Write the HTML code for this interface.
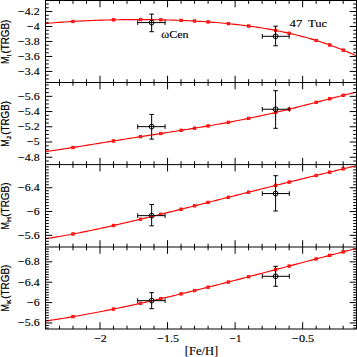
<!DOCTYPE html><html><head><meta charset="utf-8"><style>html,body{margin:0;padding:0;background:#fff;width:357px;height:357px;overflow:hidden}svg{display:block}text{font-family:"Liberation Sans",sans-serif;fill:#000}.sf{font-family:"Liberation Serif",serif}.st{stroke:#000;stroke-width:0.12px}.st2{stroke:#000;stroke-width:0.15px}</style></head><body><svg width="357" height="357" viewBox="0 0 357 357"><rect width="357" height="357" fill="#fff"/><defs><clipPath id="c0"><rect x="45.50" y="0.50" width="311.00" height="82.02"/></clipPath><clipPath id="c1"><rect x="45.50" y="82.52" width="311.00" height="82.10"/></clipPath><clipPath id="c2"><rect x="45.50" y="164.62" width="311.00" height="82.38"/></clipPath><clipPath id="c3"><rect x="45.50" y="247.00" width="311.00" height="82.00"/></clipPath></defs><g clip-path="url(#c0)"><polyline points="45.96,23.47 48.66,23.23 51.36,22.99 54.07,22.77 56.77,22.55 59.47,22.34 62.17,22.14 64.87,21.95 67.58,21.77 70.28,21.59 72.98,21.43 75.68,21.27 78.38,21.12 81.09,20.98 83.79,20.84 86.49,20.72 89.19,20.60 91.89,20.48 94.60,20.38 97.30,20.28 100.00,20.18 102.70,20.10 105.40,20.02 108.11,19.95 110.81,19.88 113.51,19.82 116.21,19.77 118.91,19.72 121.62,19.68 124.32,19.65 127.02,19.62 129.72,19.60 132.42,19.58 135.13,19.57 137.83,19.57 140.53,19.57 143.23,19.58 145.93,19.60 148.64,19.62 151.34,19.65 154.04,19.68 156.74,19.72 159.44,19.77 162.15,19.83 164.85,19.89 167.55,19.96 170.25,20.03 172.95,20.12 175.66,20.21 178.36,20.30 181.06,20.41 183.76,20.52 186.46,20.64 189.17,20.77 191.87,20.91 194.57,21.05 197.27,21.20 199.97,21.37 202.68,21.54 205.38,21.72 208.08,21.91 210.78,22.10 213.48,22.31 216.19,22.53 218.89,22.76 221.59,23.00 224.29,23.25 226.99,23.51 229.70,23.78 232.40,24.06 235.10,24.36 237.80,24.67 240.50,24.99 243.21,25.32 245.91,25.66 248.61,26.02 251.31,26.40 254.01,26.78 256.72,27.18 259.42,27.60 262.12,28.03 264.82,28.48 267.52,28.94 270.23,29.42 272.93,29.91 275.63,30.43 278.33,30.96 281.03,31.50 283.74,32.07 286.44,32.65 289.14,33.26 291.84,33.88 294.54,34.53 297.25,35.19 299.95,35.88 302.65,36.58 305.35,37.31 308.05,38.06 310.76,38.84 313.46,39.64 316.16,40.46 318.86,41.31 321.56,42.18 324.27,43.08 326.97,44.00 329.67,44.95 332.37,45.93 335.07,46.93 337.78,47.97 340.48,49.03 343.18,50.13 345.88,51.25 348.58,52.40 351.29,53.59 353.99,54.81 356.69,56.06" fill="none" stroke="#f00" stroke-width="1.15"/><rect x="71.78" y="20.23" width="2.4" height="2.4" fill="#f33" stroke="#f00" stroke-width="0.9"/><rect x="112.31" y="18.62" width="2.4" height="2.4" fill="#f33" stroke="#f00" stroke-width="0.9"/><rect x="139.33" y="18.37" width="2.4" height="2.4" fill="#f33" stroke="#f00" stroke-width="0.9"/><rect x="159.59" y="18.60" width="2.4" height="2.4" fill="#f33" stroke="#f00" stroke-width="0.9"/><rect x="179.86" y="19.21" width="2.4" height="2.4" fill="#f33" stroke="#f00" stroke-width="0.9"/><rect x="193.37" y="19.85" width="2.4" height="2.4" fill="#f33" stroke="#f00" stroke-width="0.9"/><rect x="206.88" y="20.71" width="2.4" height="2.4" fill="#f33" stroke="#f00" stroke-width="0.9"/><rect x="227.15" y="22.44" width="2.4" height="2.4" fill="#f33" stroke="#f00" stroke-width="0.9"/><rect x="247.41" y="24.82" width="2.4" height="2.4" fill="#f33" stroke="#f00" stroke-width="0.9"/><rect x="274.43" y="29.23" width="2.4" height="2.4" fill="#f33" stroke="#f00" stroke-width="0.9"/><rect x="287.94" y="32.06" width="2.4" height="2.4" fill="#f33" stroke="#f00" stroke-width="0.9"/><rect x="314.96" y="39.26" width="2.4" height="2.4" fill="#f33" stroke="#f00" stroke-width="0.9"/><rect x="328.47" y="43.75" width="2.4" height="2.4" fill="#f33" stroke="#f00" stroke-width="0.9"/><rect x="341.98" y="48.93" width="2.4" height="2.4" fill="#f33" stroke="#f00" stroke-width="0.9"/></g><g clip-path="url(#c1)"><polyline points="45.96,151.44 48.66,151.08 51.36,150.72 54.07,150.34 56.77,149.96 59.47,149.57 62.17,149.17 64.87,148.76 67.58,148.35 70.28,147.93 72.98,147.51 75.68,147.08 78.38,146.65 81.09,146.22 83.79,145.79 86.49,145.35 89.19,144.91 91.89,144.47 94.60,144.04 97.30,143.60 100.00,143.16 102.70,142.72 105.40,142.28 108.11,141.84 110.81,141.40 113.51,140.96 116.21,140.53 118.91,140.10 121.62,139.66 124.32,139.23 127.02,138.80 129.72,138.37 132.42,137.95 135.13,137.52 137.83,137.09 140.53,136.67 143.23,136.25 145.93,135.83 148.64,135.41 151.34,134.99 154.04,134.57 156.74,134.15 159.44,133.73 162.15,133.31 164.85,132.89 167.55,132.47 170.25,132.05 172.95,131.63 175.66,131.20 178.36,130.78 181.06,130.35 183.76,129.92 186.46,129.49 189.17,129.06 191.87,128.62 194.57,128.19 197.27,127.74 199.97,127.30 202.68,126.85 205.38,126.39 208.08,125.94 210.78,125.47 213.48,125.00 216.19,124.53 218.89,124.05 221.59,123.57 224.29,123.08 226.99,122.58 229.70,122.08 232.40,121.57 235.10,121.05 237.80,120.53 240.50,120.00 243.21,119.47 245.91,118.92 248.61,118.37 251.31,117.81 254.01,117.25 256.72,116.67 259.42,116.09 262.12,115.50 264.82,114.90 267.52,114.30 270.23,113.69 272.93,113.07 275.63,112.44 278.33,111.81 281.03,111.17 283.74,110.52 286.44,109.86 289.14,109.20 291.84,108.53 294.54,107.86 297.25,107.18 299.95,106.50 302.65,105.81 305.35,105.12 308.05,104.43 310.76,103.73 313.46,103.02 316.16,102.32 318.86,101.62 321.56,100.91 324.27,100.21 326.97,99.50 329.67,98.80 332.37,98.10 335.07,97.40 337.78,96.71 340.48,96.02 343.18,95.34 345.88,94.67 348.58,94.00 351.29,93.35 353.99,92.70 356.69,92.07" fill="none" stroke="#f00" stroke-width="1.15"/><rect x="71.78" y="146.31" width="2.4" height="2.4" fill="#f33" stroke="#f00" stroke-width="0.9"/><rect x="112.31" y="139.76" width="2.4" height="2.4" fill="#f33" stroke="#f00" stroke-width="0.9"/><rect x="139.33" y="135.47" width="2.4" height="2.4" fill="#f33" stroke="#f00" stroke-width="0.9"/><rect x="159.59" y="132.32" width="2.4" height="2.4" fill="#f33" stroke="#f00" stroke-width="0.9"/><rect x="179.86" y="129.15" width="2.4" height="2.4" fill="#f33" stroke="#f00" stroke-width="0.9"/><rect x="193.37" y="126.99" width="2.4" height="2.4" fill="#f33" stroke="#f00" stroke-width="0.9"/><rect x="206.88" y="124.74" width="2.4" height="2.4" fill="#f33" stroke="#f00" stroke-width="0.9"/><rect x="227.15" y="121.13" width="2.4" height="2.4" fill="#f33" stroke="#f00" stroke-width="0.9"/><rect x="247.41" y="117.17" width="2.4" height="2.4" fill="#f33" stroke="#f00" stroke-width="0.9"/><rect x="274.43" y="111.24" width="2.4" height="2.4" fill="#f33" stroke="#f00" stroke-width="0.9"/><rect x="287.94" y="108.00" width="2.4" height="2.4" fill="#f33" stroke="#f00" stroke-width="0.9"/><rect x="314.96" y="101.12" width="2.4" height="2.4" fill="#f33" stroke="#f00" stroke-width="0.9"/><rect x="328.47" y="97.60" width="2.4" height="2.4" fill="#f33" stroke="#f00" stroke-width="0.9"/><rect x="341.98" y="94.14" width="2.4" height="2.4" fill="#f33" stroke="#f00" stroke-width="0.9"/></g><g clip-path="url(#c2)"><polyline points="45.96,238.69 48.66,238.26 51.36,237.82 54.07,237.38 56.77,236.92 59.47,236.45 62.17,235.98 64.87,235.50 67.58,235.00 70.28,234.50 72.98,233.99 75.68,233.47 78.38,232.95 81.09,232.42 83.79,231.88 86.49,231.33 89.19,230.77 91.89,230.21 94.60,229.65 97.30,229.07 100.00,228.49 102.70,227.91 105.40,227.32 108.11,226.72 110.81,226.12 113.51,225.51 116.21,224.90 118.91,224.29 121.62,223.67 124.32,223.04 127.02,222.41 129.72,221.78 132.42,221.14 135.13,220.50 137.83,219.86 140.53,219.21 143.23,218.56 145.93,217.91 148.64,217.26 151.34,216.60 154.04,215.94 156.74,215.28 159.44,214.61 162.15,213.95 164.85,213.28 167.55,212.61 170.25,211.93 172.95,211.26 175.66,210.59 178.36,209.91 181.06,209.23 183.76,208.55 186.46,207.87 189.17,207.19 191.87,206.51 194.57,205.83 197.27,205.15 199.97,204.46 202.68,203.78 205.38,203.10 208.08,202.41 210.78,201.73 213.48,201.05 216.19,200.36 218.89,199.68 221.59,198.99 224.29,198.31 226.99,197.63 229.70,196.95 232.40,196.26 235.10,195.58 237.80,194.90 240.50,194.22 243.21,193.54 245.91,192.86 248.61,192.18 251.31,191.50 254.01,190.82 256.72,190.15 259.42,189.47 262.12,188.79 264.82,188.12 267.52,187.45 270.23,186.77 272.93,186.10 275.63,185.43 278.33,184.76 281.03,184.09 283.74,183.42 286.44,182.75 289.14,182.08 291.84,181.42 294.54,180.75 297.25,180.09 299.95,179.42 302.65,178.76 305.35,178.09 308.05,177.43 310.76,176.77 313.46,176.11 316.16,175.45 318.86,174.79 321.56,174.13 324.27,173.47 326.97,172.81 329.67,172.15 332.37,171.49 335.07,170.83 337.78,170.17 340.48,169.51 343.18,168.85 345.88,168.19 348.58,167.53 351.29,166.87 353.99,166.21 356.69,165.55" fill="none" stroke="#f00" stroke-width="1.15"/><rect x="71.78" y="232.79" width="2.4" height="2.4" fill="#f33" stroke="#f00" stroke-width="0.9"/><rect x="112.31" y="224.31" width="2.4" height="2.4" fill="#f33" stroke="#f00" stroke-width="0.9"/><rect x="139.33" y="218.01" width="2.4" height="2.4" fill="#f33" stroke="#f00" stroke-width="0.9"/><rect x="159.59" y="213.08" width="2.4" height="2.4" fill="#f33" stroke="#f00" stroke-width="0.9"/><rect x="179.86" y="208.03" width="2.4" height="2.4" fill="#f33" stroke="#f00" stroke-width="0.9"/><rect x="193.37" y="204.63" width="2.4" height="2.4" fill="#f33" stroke="#f00" stroke-width="0.9"/><rect x="206.88" y="201.21" width="2.4" height="2.4" fill="#f33" stroke="#f00" stroke-width="0.9"/><rect x="227.15" y="196.09" width="2.4" height="2.4" fill="#f33" stroke="#f00" stroke-width="0.9"/><rect x="247.41" y="190.98" width="2.4" height="2.4" fill="#f33" stroke="#f00" stroke-width="0.9"/><rect x="274.43" y="184.23" width="2.4" height="2.4" fill="#f33" stroke="#f00" stroke-width="0.9"/><rect x="287.94" y="180.88" width="2.4" height="2.4" fill="#f33" stroke="#f00" stroke-width="0.9"/><rect x="314.96" y="174.25" width="2.4" height="2.4" fill="#f33" stroke="#f00" stroke-width="0.9"/><rect x="328.47" y="170.95" width="2.4" height="2.4" fill="#f33" stroke="#f00" stroke-width="0.9"/><rect x="341.98" y="167.65" width="2.4" height="2.4" fill="#f33" stroke="#f00" stroke-width="0.9"/></g><g clip-path="url(#c3)"><polyline points="45.96,320.96 48.66,320.56 51.36,320.15 54.07,319.74 56.77,319.32 59.47,318.90 62.17,318.47 64.87,318.03 67.58,317.58 70.28,317.13 72.98,316.67 75.68,316.20 78.38,315.73 81.09,315.25 83.79,314.77 86.49,314.28 89.19,313.78 91.89,313.28 94.60,312.77 97.30,312.26 100.00,311.74 102.70,311.21 105.40,310.68 108.11,310.14 110.81,309.60 113.51,309.06 116.21,308.50 118.91,307.95 121.62,307.38 124.32,306.82 127.02,306.24 129.72,305.67 132.42,305.08 135.13,304.50 137.83,303.91 140.53,303.31 143.23,302.71 145.93,302.11 148.64,301.50 151.34,300.88 154.04,300.27 156.74,299.65 159.44,299.02 162.15,298.39 164.85,297.76 167.55,297.13 170.25,296.49 172.95,295.84 175.66,295.20 178.36,294.55 181.06,293.89 183.76,293.24 186.46,292.58 189.17,291.92 191.87,291.25 194.57,290.58 197.27,289.91 199.97,289.24 202.68,288.56 205.38,287.88 208.08,287.20 210.78,286.52 213.48,285.83 216.19,285.15 218.89,284.46 221.59,283.76 224.29,283.07 226.99,282.38 229.70,281.68 232.40,280.98 235.10,280.28 237.80,279.58 240.50,278.87 243.21,278.17 245.91,277.46 248.61,276.75 251.31,276.04 254.01,275.33 256.72,274.62 259.42,273.91 262.12,273.20 264.82,272.49 267.52,271.77 270.23,271.06 272.93,270.35 275.63,269.63 278.33,268.92 281.03,268.20 283.74,267.48 286.44,266.77 289.14,266.05 291.84,265.34 294.54,264.62 297.25,263.91 299.95,263.19 302.65,262.48 305.35,261.76 308.05,261.05 310.76,260.34 313.46,259.63 316.16,258.92 318.86,258.21 321.56,257.50 324.27,256.79 326.97,256.08 329.67,255.38 332.37,254.68 335.07,253.97 337.78,253.27 340.48,252.57 343.18,251.88 345.88,251.18 348.58,250.49 351.29,249.79 353.99,249.10 356.69,248.42" fill="none" stroke="#f00" stroke-width="1.15"/><rect x="71.78" y="315.47" width="2.4" height="2.4" fill="#f33" stroke="#f00" stroke-width="0.9"/><rect x="112.31" y="307.86" width="2.4" height="2.4" fill="#f33" stroke="#f00" stroke-width="0.9"/><rect x="139.33" y="302.11" width="2.4" height="2.4" fill="#f33" stroke="#f00" stroke-width="0.9"/><rect x="159.59" y="297.51" width="2.4" height="2.4" fill="#f33" stroke="#f00" stroke-width="0.9"/><rect x="179.86" y="292.69" width="2.4" height="2.4" fill="#f33" stroke="#f00" stroke-width="0.9"/><rect x="193.37" y="289.38" width="2.4" height="2.4" fill="#f33" stroke="#f00" stroke-width="0.9"/><rect x="206.88" y="286.00" width="2.4" height="2.4" fill="#f33" stroke="#f00" stroke-width="0.9"/><rect x="227.15" y="280.83" width="2.4" height="2.4" fill="#f33" stroke="#f00" stroke-width="0.9"/><rect x="247.41" y="275.55" width="2.4" height="2.4" fill="#f33" stroke="#f00" stroke-width="0.9"/><rect x="274.43" y="268.43" width="2.4" height="2.4" fill="#f33" stroke="#f00" stroke-width="0.9"/><rect x="287.94" y="264.85" width="2.4" height="2.4" fill="#f33" stroke="#f00" stroke-width="0.9"/><rect x="314.96" y="257.72" width="2.4" height="2.4" fill="#f33" stroke="#f00" stroke-width="0.9"/><rect x="328.47" y="254.18" width="2.4" height="2.4" fill="#f33" stroke="#f00" stroke-width="0.9"/><rect x="341.98" y="250.68" width="2.4" height="2.4" fill="#f33" stroke="#f00" stroke-width="0.9"/></g><path d="M151.65 14.10V31.70M137.70 22.60H165.10M149.35 14.10H153.95M149.35 31.70H153.95M137.70 20.30V24.90M165.10 20.30V24.90" stroke="#000" stroke-width="1" fill="none"/><circle cx="151.65" cy="22.60" r="2.4" fill="none" stroke="#000" stroke-width="1"/><path d="M275.60 26.20V45.80M262.30 36.30H289.20M273.30 26.20H277.90M273.30 45.80H277.90M262.30 34.00V38.60M289.20 34.00V38.60" stroke="#000" stroke-width="1" fill="none"/><circle cx="275.60" cy="36.30" r="2.4" fill="none" stroke="#000" stroke-width="1"/><path d="M151.65 114.40V139.10M137.70 126.65H165.10M149.35 114.40H153.95M149.35 139.10H153.95M137.70 124.35V128.95M165.10 124.35V128.95" stroke="#000" stroke-width="1" fill="none"/><circle cx="151.65" cy="126.65" r="2.4" fill="none" stroke="#000" stroke-width="1"/><path d="M275.60 90.70V128.30M262.30 109.25H289.30M273.30 90.70H277.90M273.30 128.30H277.90M262.30 106.95V111.55M289.30 106.95V111.55" stroke="#000" stroke-width="1" fill="none"/><circle cx="275.60" cy="109.25" r="2.4" fill="none" stroke="#000" stroke-width="1"/><path d="M151.65 204.50V225.80M137.70 215.65H165.10M149.35 204.50H153.95M149.35 225.80H153.95M137.70 213.35V217.95M165.10 213.35V217.95" stroke="#000" stroke-width="1" fill="none"/><circle cx="151.65" cy="215.65" r="2.4" fill="none" stroke="#000" stroke-width="1"/><path d="M275.60 175.70V211.00M262.30 193.55H289.30M273.30 175.70H277.90M273.30 211.00H277.90M262.30 191.25V195.85M289.30 191.25V195.85" stroke="#000" stroke-width="1" fill="none"/><circle cx="275.60" cy="193.55" r="2.4" fill="none" stroke="#000" stroke-width="1"/><path d="M151.65 292.60V308.70M137.70 300.65H165.10M149.35 292.60H153.95M149.35 308.70H153.95M137.70 298.35V302.95M165.10 298.35V302.95" stroke="#000" stroke-width="1" fill="none"/><circle cx="151.65" cy="300.65" r="2.4" fill="none" stroke="#000" stroke-width="1"/><path d="M275.60 266.30V286.25M262.30 276.30H289.30M273.30 266.30H277.90M273.30 286.25H277.90M262.30 274.00V278.60M289.30 274.00V278.60" stroke="#000" stroke-width="1" fill="none"/><circle cx="275.60" cy="276.30" r="2.4" fill="none" stroke="#000" stroke-width="1"/><path d="M45.00 0.50H357.00M45.00 82.52H357.00M45.00 164.62H357.00M45.00 247.00H357.00M45.00 329.00H357.00M45.50 0.50V329.00M356.50 0.50V329.00M59.47 0.50V3.80M59.47 82.52V79.22M72.98 0.50V3.80M72.98 82.52V79.22M86.49 0.50V3.80M86.49 82.52V79.22M100.00 0.50V7.30M100.00 82.52V75.72M113.51 0.50V3.80M113.51 82.52V79.22M127.02 0.50V3.80M127.02 82.52V79.22M140.53 0.50V3.80M140.53 82.52V79.22M154.04 0.50V3.80M154.04 82.52V79.22M167.55 0.50V7.30M167.55 82.52V75.72M181.06 0.50V3.80M181.06 82.52V79.22M194.57 0.50V3.80M194.57 82.52V79.22M208.08 0.50V3.80M208.08 82.52V79.22M221.59 0.50V3.80M221.59 82.52V79.22M235.10 0.50V7.30M235.10 82.52V75.72M248.61 0.50V3.80M248.61 82.52V79.22M262.12 0.50V3.80M262.12 82.52V79.22M275.63 0.50V3.80M275.63 82.52V79.22M289.14 0.50V3.80M289.14 82.52V79.22M302.65 0.50V7.30M302.65 82.52V75.72M316.16 0.50V3.80M316.16 82.52V79.22M329.67 0.50V3.80M329.67 82.52V79.22M343.18 0.50V3.80M343.18 82.52V79.22M59.47 82.52V85.82M59.47 164.62V161.32M72.98 82.52V85.82M72.98 164.62V161.32M86.49 82.52V85.82M86.49 164.62V161.32M100.00 82.52V89.32M100.00 164.62V157.82M113.51 82.52V85.82M113.51 164.62V161.32M127.02 82.52V85.82M127.02 164.62V161.32M140.53 82.52V85.82M140.53 164.62V161.32M154.04 82.52V85.82M154.04 164.62V161.32M167.55 82.52V89.32M167.55 164.62V157.82M181.06 82.52V85.82M181.06 164.62V161.32M194.57 82.52V85.82M194.57 164.62V161.32M208.08 82.52V85.82M208.08 164.62V161.32M221.59 82.52V85.82M221.59 164.62V161.32M235.10 82.52V89.32M235.10 164.62V157.82M248.61 82.52V85.82M248.61 164.62V161.32M262.12 82.52V85.82M262.12 164.62V161.32M275.63 82.52V85.82M275.63 164.62V161.32M289.14 82.52V85.82M289.14 164.62V161.32M302.65 82.52V89.32M302.65 164.62V157.82M316.16 82.52V85.82M316.16 164.62V161.32M329.67 82.52V85.82M329.67 164.62V161.32M343.18 82.52V85.82M343.18 164.62V161.32M59.47 164.62V167.92M59.47 247.00V243.70M72.98 164.62V167.92M72.98 247.00V243.70M86.49 164.62V167.92M86.49 247.00V243.70M100.00 164.62V171.42M100.00 247.00V240.20M113.51 164.62V167.92M113.51 247.00V243.70M127.02 164.62V167.92M127.02 247.00V243.70M140.53 164.62V167.92M140.53 247.00V243.70M154.04 164.62V167.92M154.04 247.00V243.70M167.55 164.62V171.42M167.55 247.00V240.20M181.06 164.62V167.92M181.06 247.00V243.70M194.57 164.62V167.92M194.57 247.00V243.70M208.08 164.62V167.92M208.08 247.00V243.70M221.59 164.62V167.92M221.59 247.00V243.70M235.10 164.62V171.42M235.10 247.00V240.20M248.61 164.62V167.92M248.61 247.00V243.70M262.12 164.62V167.92M262.12 247.00V243.70M275.63 164.62V167.92M275.63 247.00V243.70M289.14 164.62V167.92M289.14 247.00V243.70M302.65 164.62V171.42M302.65 247.00V240.20M316.16 164.62V167.92M316.16 247.00V243.70M329.67 164.62V167.92M329.67 247.00V243.70M343.18 164.62V167.92M343.18 247.00V243.70M59.47 247.00V250.30M59.47 329.00V325.70M72.98 247.00V250.30M72.98 329.00V325.70M86.49 247.00V250.30M86.49 329.00V325.70M100.00 247.00V253.80M100.00 329.00V322.20M113.51 247.00V250.30M113.51 329.00V325.70M127.02 247.00V250.30M127.02 329.00V325.70M140.53 247.00V250.30M140.53 329.00V325.70M154.04 247.00V250.30M154.04 329.00V325.70M167.55 247.00V253.80M167.55 329.00V322.20M181.06 247.00V250.30M181.06 329.00V325.70M194.57 247.00V250.30M194.57 329.00V325.70M208.08 247.00V250.30M208.08 329.00V325.70M221.59 247.00V250.30M221.59 329.00V325.70M235.10 247.00V253.80M235.10 329.00V322.20M248.61 247.00V250.30M248.61 329.00V325.70M262.12 247.00V250.30M262.12 329.00V325.70M275.63 247.00V250.30M275.63 329.00V325.70M289.14 247.00V250.30M289.14 329.00V325.70M302.65 247.00V253.80M302.65 329.00V322.20M316.16 247.00V250.30M316.16 329.00V325.70M329.67 247.00V250.30M329.67 329.00V325.70M343.18 247.00V250.30M343.18 329.00V325.70M45.50 4.03H48.80M356.50 4.03H353.20M45.50 7.77H48.80M356.50 7.77H353.20M45.50 11.52H52.30M356.50 11.52H349.70M45.50 15.26H48.80M356.50 15.26H353.20M45.50 19.01H48.80M356.50 19.01H353.20M45.50 22.76H48.80M356.50 22.76H353.20M45.50 26.50H52.30M356.50 26.50H349.70M45.50 30.24H48.80M356.50 30.24H353.20M45.50 33.99H48.80M356.50 33.99H353.20M45.50 37.73H48.80M356.50 37.73H353.20M45.50 41.48H52.30M356.50 41.48H349.70M45.50 45.23H48.80M356.50 45.23H353.20M45.50 48.97H48.80M356.50 48.97H353.20M45.50 52.72H48.80M356.50 52.72H353.20M45.50 56.46H52.30M356.50 56.46H349.70M45.50 60.21H48.80M356.50 60.21H353.20M45.50 63.95H48.80M356.50 63.95H353.20M45.50 67.69H48.80M356.50 67.69H353.20M45.50 71.44H52.30M356.50 71.44H349.70M45.50 75.19H48.80M356.50 75.19H353.20M45.50 78.93H48.80M356.50 78.93H353.20M45.50 84.93H48.80M356.50 84.93H353.20M45.50 88.73H48.80M356.50 88.73H353.20M45.50 92.53H48.80M356.50 92.53H353.20M45.50 96.34H52.30M356.50 96.34H349.70M45.50 100.15H48.80M356.50 100.15H353.20M45.50 103.95H48.80M356.50 103.95H353.20M45.50 107.75H48.80M356.50 107.75H353.20M45.50 111.56H52.30M356.50 111.56H349.70M45.50 115.37H48.80M356.50 115.37H353.20M45.50 119.17H48.80M356.50 119.17H353.20M45.50 122.98H48.80M356.50 122.98H353.20M45.50 126.78H52.30M356.50 126.78H349.70M45.50 130.58H48.80M356.50 130.58H353.20M45.50 134.39H48.80M356.50 134.39H353.20M45.50 138.20H48.80M356.50 138.20H353.20M45.50 142.00H52.30M356.50 142.00H349.70M45.50 145.81H48.80M356.50 145.81H353.20M45.50 149.61H48.80M356.50 149.61H353.20M45.50 153.42H48.80M356.50 153.42H353.20M45.50 157.22H52.30M356.50 157.22H349.70M45.50 161.03H48.80M356.50 161.03H353.20M45.50 166.93H48.80M356.50 166.93H353.20M45.50 169.90H48.80M356.50 169.90H353.20M45.50 172.88H48.80M356.50 172.88H353.20M45.50 175.85H48.80M356.50 175.85H353.20M45.50 178.83H48.80M356.50 178.83H353.20M45.50 181.80H48.80M356.50 181.80H353.20M45.50 184.78H48.80M356.50 184.78H353.20M45.50 187.75H52.30M356.50 187.75H349.70M45.50 190.73H48.80M356.50 190.73H353.20M45.50 193.70H48.80M356.50 193.70H353.20M45.50 196.68H48.80M356.50 196.68H353.20M45.50 199.65H48.80M356.50 199.65H353.20M45.50 202.62H48.80M356.50 202.62H353.20M45.50 205.60H48.80M356.50 205.60H353.20M45.50 208.58H48.80M356.50 208.58H353.20M45.50 211.55H52.30M356.50 211.55H349.70M45.50 214.53H48.80M356.50 214.53H353.20M45.50 217.50H48.80M356.50 217.50H353.20M45.50 220.48H48.80M356.50 220.48H353.20M45.50 223.45H48.80M356.50 223.45H353.20M45.50 226.43H48.80M356.50 226.43H353.20M45.50 229.40H48.80M356.50 229.40H353.20M45.50 232.38H48.80M356.50 232.38H353.20M45.50 235.35H52.30M356.50 235.35H349.70M45.50 238.33H48.80M356.50 238.33H353.20M45.50 241.30H48.80M356.50 241.30H353.20M45.50 244.28H48.80M356.50 244.28H353.20M45.50 249.09H48.80M356.50 249.09H353.20M45.50 251.64H48.80M356.50 251.64H353.20M45.50 254.19H48.80M356.50 254.19H353.20M45.50 256.73H48.80M356.50 256.73H353.20M45.50 259.28H48.80M356.50 259.28H353.20M45.50 261.83H52.30M356.50 261.83H349.70M45.50 264.38H48.80M356.50 264.38H353.20M45.50 266.92H48.80M356.50 266.92H353.20M45.50 269.47H48.80M356.50 269.47H353.20M45.50 272.02H48.80M356.50 272.02H353.20M45.50 274.57H48.80M356.50 274.57H353.20M45.50 277.12H48.80M356.50 277.12H353.20M45.50 279.66H48.80M356.50 279.66H353.20M45.50 282.21H52.30M356.50 282.21H349.70M45.50 284.76H48.80M356.50 284.76H353.20M45.50 287.31H48.80M356.50 287.31H353.20M45.50 289.85H48.80M356.50 289.85H353.20M45.50 292.40H48.80M356.50 292.40H353.20M45.50 294.95H48.80M356.50 294.95H353.20M45.50 297.50H48.80M356.50 297.50H353.20M45.50 300.04H48.80M356.50 300.04H353.20M45.50 302.59H52.30M356.50 302.59H349.70M45.50 305.14H48.80M356.50 305.14H353.20M45.50 307.68H48.80M356.50 307.68H353.20M45.50 310.23H48.80M356.50 310.23H353.20M45.50 312.78H48.80M356.50 312.78H353.20M45.50 315.33H48.80M356.50 315.33H353.20M45.50 317.88H48.80M356.50 317.88H353.20M45.50 320.42H48.80M356.50 320.42H353.20M45.50 322.97H52.30M356.50 322.97H349.70M45.50 325.52H48.80M356.50 325.52H353.20M45.50 328.06H48.80M356.50 328.06H353.20" stroke="#000" stroke-width="1" fill="none"/><text class="sf st2" x="18.10" y="14.87" font-size="10.20" textLength="21.60" lengthAdjust="spacingAndGlyphs">−4.2</text><text class="sf st2" x="27.10" y="29.85" font-size="10.20" textLength="12.60" lengthAdjust="spacingAndGlyphs">−4</text><text class="sf st2" x="18.10" y="44.83" font-size="10.20" textLength="21.60" lengthAdjust="spacingAndGlyphs">−3.8</text><text class="sf st2" x="18.10" y="59.81" font-size="10.20" textLength="21.60" lengthAdjust="spacingAndGlyphs">−3.6</text><text class="sf st2" x="18.10" y="74.79" font-size="10.20" textLength="21.60" lengthAdjust="spacingAndGlyphs">−3.4</text><text class="sf st2" x="18.10" y="99.69" font-size="10.20" textLength="21.60" lengthAdjust="spacingAndGlyphs">−5.6</text><text class="sf st2" x="18.10" y="114.91" font-size="10.20" textLength="21.60" lengthAdjust="spacingAndGlyphs">−5.4</text><text class="sf st2" x="18.10" y="130.13" font-size="10.20" textLength="21.60" lengthAdjust="spacingAndGlyphs">−5.2</text><text class="sf st2" x="27.10" y="145.35" font-size="10.20" textLength="12.60" lengthAdjust="spacingAndGlyphs">−5</text><text class="sf st2" x="18.10" y="160.57" font-size="10.20" textLength="21.60" lengthAdjust="spacingAndGlyphs">−4.8</text><text class="sf st2" x="18.10" y="191.10" font-size="10.20" textLength="21.60" lengthAdjust="spacingAndGlyphs">−6.4</text><text class="sf st2" x="27.10" y="214.90" font-size="10.20" textLength="12.60" lengthAdjust="spacingAndGlyphs">−6</text><text class="sf st2" x="18.10" y="238.70" font-size="10.20" textLength="21.60" lengthAdjust="spacingAndGlyphs">−5.6</text><text class="sf st2" x="18.10" y="265.18" font-size="10.20" textLength="21.60" lengthAdjust="spacingAndGlyphs">−6.8</text><text class="sf st2" x="18.10" y="285.56" font-size="10.20" textLength="21.60" lengthAdjust="spacingAndGlyphs">−6.4</text><text class="sf st2" x="27.10" y="305.94" font-size="10.20" textLength="12.60" lengthAdjust="spacingAndGlyphs">−6</text><text class="sf st2" x="18.10" y="326.32" font-size="10.20" textLength="21.60" lengthAdjust="spacingAndGlyphs">−5.6</text><text class="sf st2" x="94.20" y="341.90" font-size="10.20" textLength="12.60" lengthAdjust="spacingAndGlyphs">−2</text><text class="sf st2" x="157.15" y="341.90" font-size="10.20" textLength="21.80" lengthAdjust="spacingAndGlyphs">−1.5</text><text class="sf st2" x="229.80" y="341.90" font-size="10.20" textLength="11.60" lengthAdjust="spacingAndGlyphs">−1</text><text class="sf st2" x="292.05" y="341.90" font-size="10.20" textLength="22.20" lengthAdjust="spacingAndGlyphs">−0.5</text><text class="sf st" x="184.8" y="354.8" font-size="11.8" textLength="33.4" lengthAdjust="spacingAndGlyphs">[Fe/H]</text><g transform="translate(8.7 63.40) rotate(-90)" stroke="#000" stroke-width="0.2"><text x="-0.65" y="0" font-size="10.2" textLength="7.5" lengthAdjust="spacingAndGlyphs">M</text><text x="7.0" y="2.4" font-size="6.2" stroke="#000" stroke-width="0.35">I</text><text x="9.80" y="0" font-size="10.2" textLength="34.00" lengthAdjust="spacingAndGlyphs">(TRGB)</text></g><g transform="translate(8.7 146.20) rotate(-90)" stroke="#000" stroke-width="0.2"><text x="-0.65" y="0" font-size="10.2" textLength="7.5" lengthAdjust="spacingAndGlyphs">M</text><text x="7.0" y="2.4" font-size="6.2" stroke="#000" stroke-width="0.35">J</text><text x="11.40" y="0" font-size="10.2" textLength="33.80" lengthAdjust="spacingAndGlyphs">(TRGB)</text></g><g transform="translate(8.7 228.80) rotate(-90)" stroke="#000" stroke-width="0.2"><text x="-0.65" y="0" font-size="10.2" textLength="7.5" lengthAdjust="spacingAndGlyphs">M</text><text x="7.0" y="2.4" font-size="6.2" stroke="#000" stroke-width="0.35">H</text><text x="12.00" y="0" font-size="10.2" textLength="34.40" lengthAdjust="spacingAndGlyphs">(TRGB)</text></g><g transform="translate(8.7 310.80) rotate(-90)" stroke="#000" stroke-width="0.2"><text x="-0.65" y="0" font-size="10.2" textLength="7.5" lengthAdjust="spacingAndGlyphs">M</text><text x="7.0" y="2.4" font-size="6.2" stroke="#000" stroke-width="0.35">K</text><text x="12.00" y="0" font-size="10.2" textLength="34.10" lengthAdjust="spacingAndGlyphs">(TRGB)</text></g><text class="sf st" x="161.2" y="38.3" font-size="9.8" textLength="27.4" lengthAdjust="spacingAndGlyphs">ωCen</text><text class="sf st" x="289.5" y="26.5" font-size="9.6" textLength="12.8" lengthAdjust="spacingAndGlyphs">47</text><text class="sf st" x="308.0" y="26.5" font-size="9.6" textLength="19.2" lengthAdjust="spacingAndGlyphs">Tuc</text></svg></body></html>
